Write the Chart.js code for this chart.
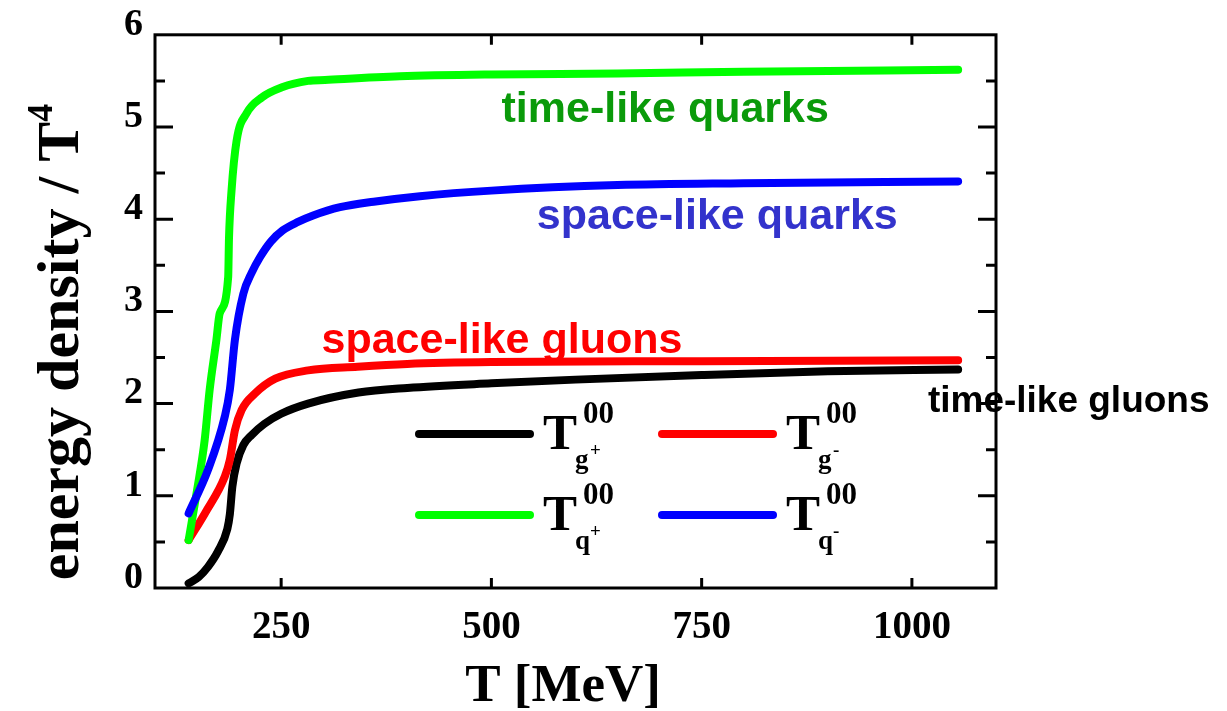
<!DOCTYPE html>
<html>
<head>
<meta charset="utf-8">
<title>energy density / T^4</title>
<script src="https://cdn.jsdelivr.net/npm/chart.js"></script>
<style>
  html, body { margin: 0; padding: 0; background: #fff; }
  #wrap { width: 1227px; height: 711px; }
</style>
</head>
<body>
<div id="wrap"><canvas id="chart" width="1227" height="711"></canvas></div>
<script>
// values: T in MeV, energy density / T^4
const tGluonPlus = [140, 152, 163, 175, 186, 189, 192, 197, 205, 215, 230, 250, 282, 342, 400, 500, 600, 750, 900, 1055];
const eGluonPlus = [0.05, 0.12, 0.23, 0.40, 0.64, 0.80, 1.10, 1.35, 1.55, 1.66, 1.78, 1.89, 2.00, 2.12, 2.17, 2.22, 2.26, 2.31, 2.35, 2.37];

const tGluonMinus = [140, 160, 183, 189, 195, 203, 219, 243, 282, 341, 400, 500, 750, 1055];
const eGluonMinus = [0.52, 0.82, 1.21, 1.39, 1.71, 1.93, 2.11, 2.27, 2.36, 2.40, 2.43, 2.45, 2.46, 2.47];

const tQuarkPlus = [140, 150, 159, 165, 173, 177, 187, 188, 191, 197, 209, 227, 251, 282, 302, 391, 500, 650, 800, 1055];
const eQuarkPlus = [0.52, 1.06, 1.60, 2.15, 2.69, 2.98, 3.37, 3.80, 4.31, 4.85, 5.15, 5.32, 5.43, 5.50, 5.51, 5.55, 5.57, 5.58, 5.60, 5.62];

const tQuarkMinus = [140, 163, 183, 189, 195, 205, 215, 225, 238, 252, 270, 288, 320, 360, 415, 500, 650, 800, 1055];
const eQuarkMinus = [0.81, 1.28, 1.86, 2.15, 2.69, 3.19, 3.42, 3.59, 3.76, 3.88, 3.97, 4.04, 4.13, 4.19, 4.25, 4.31, 4.37, 4.39, 4.41];

const xTickVals = [250, 500, 750, 1000];

// text labels next to the curves (left edge T, baseline value)
const curveNames = ['time-like quarks', 'space-like quarks', 'space-like gluons', 'time-like gluons'];
const curveNameAt = [[512, 5.05], [554, 3.89], [298, 2.55], [1019, 1.91]];
const curveNameColors = ['#0a9a0a', '#3333cc', '#ff0000', '#000000'];
const curveNameFontPx = [43, 43, 43, 37];

function toPoints(ts, es) {
  return ts.map((t, i) => ({ x: t, y: es[i] }));
}

function lineSet(label, ts, es, color) {
  return {
    label: label,
    data: toPoints(ts, es),
    borderColor: color,
    backgroundColor: color,
    borderWidth: 8,
    borderCapStyle: 'round',
    borderJoinStyle: 'round',
    pointRadius: 0,
    cubicInterpolationMode: 'monotone',
    fill: false
  };
}

// legend entry: line sample + T^00 with sub/superscripts
function drawLegendItem(ctx, x0, yl, color, sub, sign) {
  ctx.strokeStyle = color;
  ctx.lineWidth = 8;
  ctx.lineCap = 'round';
  ctx.beginPath();
  ctx.moveTo(x0 + 4, yl);
  ctx.lineTo(x0 + 115, yl);
  ctx.stroke();
  const tx = x0 + 128;
  ctx.fillStyle = '#000';
  ctx.textAlign = 'left';
  ctx.textBaseline = 'alphabetic';
  ctx.font = 'bold 51px "Liberation Serif"';
  ctx.fillText('T', tx, yl + 15);
  ctx.font = 'bold 31px "Liberation Serif"';
  ctx.fillText('00', tx + 40, yl - 11);
  ctx.font = 'bold 27px "Liberation Serif"';
  ctx.fillText(sub, tx + 32, yl + 34);
  ctx.font = 'bold 19px "Liberation Serif"';
  ctx.fillText(sign, tx + 47, yl + 22);
}

const framePlugin = {
  id: 'frame',
  afterDatasetsDraw(chart) {
    const { ctx, chartArea: a, scales: { x, y } } = chart;
    ctx.save();
    ctx.strokeStyle = '#000';
    ctx.lineWidth = 3;
    ctx.lineCap = 'butt';
    ctx.strokeRect(a.left, a.top, a.right - a.left, a.bottom - a.top);

    // inward ticks, y has minor ticks every 0.5
    ctx.beginPath();
    for (let i = 1; i < 12; i++) {
      const py = y.getPixelForValue(i / 2);
      const len = i % 2 === 0 ? 18 : 10;
      ctx.moveTo(a.left, py); ctx.lineTo(a.left + len, py);
      ctx.moveTo(a.right, py); ctx.lineTo(a.right - len, py);
    }
    xTickVals.forEach(v => {
      const px = x.getPixelForValue(v);
      ctx.moveTo(px, a.bottom); ctx.lineTo(px, a.bottom - 10);
      ctx.moveTo(px, a.top); ctx.lineTo(px, a.top + 10);
    });
    ctx.stroke();

    // curve names
    ctx.textAlign = 'left';
    ctx.textBaseline = 'alphabetic';
    curveNames.forEach((name, i) => {
      ctx.font = 'bold ' + curveNameFontPx[i] + 'px "Liberation Sans"';
      ctx.fillStyle = curveNameColors[i];
      ctx.fillText(name, x.getPixelForValue(curveNameAt[i][0]), y.getPixelForValue(curveNameAt[i][1]));
    });

    // legend
    drawLegendItem(ctx, 415, 434, '#000000', 'g', '+');
    drawLegendItem(ctx, 658, 434, '#ff0000', 'g', '-');
    drawLegendItem(ctx, 415, 515, '#00ff00', 'q', '+');
    drawLegendItem(ctx, 658, 515, '#0000ff', 'q', '-');

    // axis titles
    ctx.fillStyle = '#000';
    ctx.font = 'bold 53px "Liberation Serif"';
    ctx.textAlign = 'center';
    ctx.fillText('T [MeV]', 563, 701);

    ctx.translate(78, 342);
    ctx.rotate(-Math.PI / 2);
    ctx.font = 'bold 60px "Liberation Serif"';
    const main = 'energy density / T';
    const w1 = ctx.measureText(main).width;
    ctx.font = 'bold 36px "Liberation Serif"';
    const w2 = ctx.measureText('4').width;
    const start = -(w1 + w2) / 2;
    ctx.textAlign = 'left';
    ctx.font = 'bold 60px "Liberation Serif"';
    ctx.fillText(main, start, 0);
    ctx.font = 'bold 36px "Liberation Serif"';
    ctx.fillText('4', start + w1, -26);
    ctx.restore();
  }
};

new Chart(document.getElementById('chart'), {
  type: 'line',
  data: {
    datasets: [
      lineSet('T00 q-', tQuarkMinus, eQuarkMinus, '#0000ff'),
      lineSet('T00 q+', tQuarkPlus, eQuarkPlus, '#00ff00'),
      lineSet('T00 g-', tGluonMinus, eGluonMinus, '#ff0000'),
      lineSet('T00 g+', tGluonPlus, eGluonPlus, '#000000')
    ]
  },
  options: {
    responsive: false,
    animation: false,
    layout: { padding: { top: 34, right: 231, left: 0, bottom: 0 } },
    plugins: { legend: { display: false }, tooltip: { enabled: false } },
    scales: {
      x: {
        type: 'linear',
        min: 100,
        max: 1100,
        grid: { display: false, drawTicks: false },
        border: { display: false },
        afterBuildTicks: s => { s.ticks = xTickVals.map(v => ({ value: v })); },
        afterFit: s => { s.height = 123; },
        ticks: {
          color: '#000',
          padding: 17,
          maxRotation: 0,
          callback: v => String(v),
          font: { family: 'Liberation Serif', size: 39, weight: 'bold' }
        }
      },
      y: {
        type: 'linear',
        min: 0,
        max: 6,
        grid: { display: false, drawTicks: false },
        border: { display: false },
        afterFit: s => { s.width = 155; },
        ticks: {
          stepSize: 1,
          color: '#000',
          padding: 12,
          labelOffset: -10,
          callback: v => String(v),
          font: { family: 'Liberation Serif', size: 38, weight: 'bold' }
        }
      }
    }
  },
  plugins: [framePlugin]
});
</script>
</body>
</html>
